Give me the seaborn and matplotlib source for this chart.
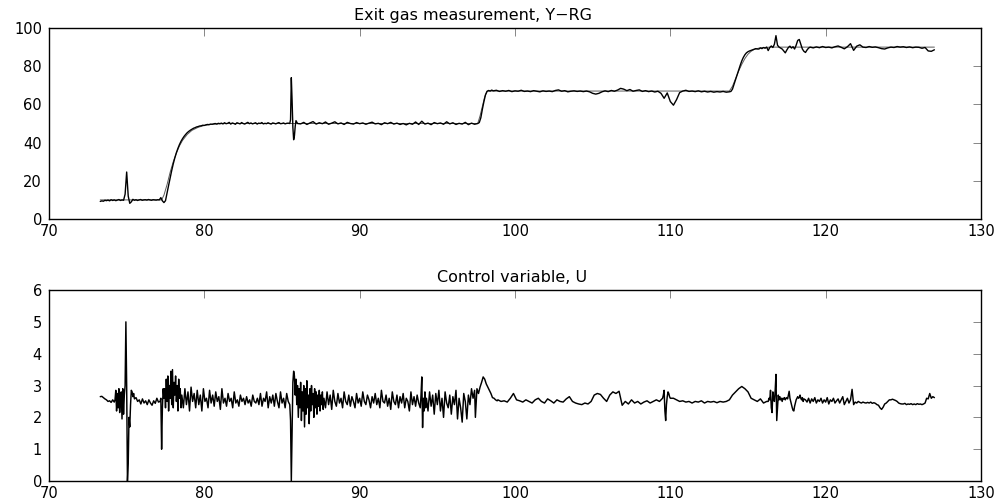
import numpy as np
import pandas as pd
import matplotlib
matplotlib.use("Agg")
import matplotlib.pyplot as plt
import seaborn as sns

# ---------------------------------------------------------------
# Exit gas measurement Y-RG (measured signal), sampled piecewise.
# Each block: (t_start, t_end) and the values in between.
# ---------------------------------------------------------------
gas_a_span = (73.3, 77.3)
gas_a = [9.2, 9.5, 9.3, 9.8, 9.6, 9.9, 9.5, 10.1, 9.7, 10.0, 9.6, 9.9, 10.2, 9.7,
         10.0, 9.8, 13.0, 24.6, 12.0, 8.2, 9.0, 10.3, 9.8, 10.1, 9.7, 10.0, 10.2,
         9.8, 10.0, 10.1, 9.9, 10.2, 10.0, 9.8, 10.1, 10.0, 9.9, 10.1, 10.0, 11.2, 9.5]
gas_b_span = (77.4, 81.0)
gas_b = [8.6, 9.6, 13.5, 17.6, 21.6, 25.4, 28.9, 32.0, 34.7, 37.0, 39.0, 40.7, 42.1,
         43.3, 44.3, 45.2, 45.9, 46.5, 47.0, 47.5, 47.8, 48.2, 48.4, 48.7, 48.8, 49.1,
         49.0, 49.3, 49.5, 49.4, 49.7, 49.6, 49.8, 50.0, 49.7, 50.1, 49.9]
gas_c_span = (81.1, 85.5)
gas_c = [50.2, 49.8, 50.4, 49.9, 50.1, 50.6, 49.7, 50.3, 50.0, 49.6, 50.4, 50.1, 49.8,
         50.5, 50.0, 49.7, 50.2, 50.6, 49.9, 50.3, 49.8, 50.1, 50.4, 49.7, 50.2, 50.0,
         50.5, 49.8, 50.1, 49.9, 50.4, 50.0, 49.7, 50.3, 50.1, 49.8, 50.2, 50.5, 49.9,
         50.0, 50.3, 49.8, 50.1, 50.2, 50.0]
gas_d_span = (85.55, 86.0)
gas_d = [52.0, 74.0, 62.0, 48.0, 41.5, 43.5, 48.5, 51.5, 50.8, 50.0]
gas_e_span = (86.2, 97.6)
gas_e = [49.8, 50.6, 49.5, 50.3, 51.0, 49.7, 50.4, 49.9, 50.8, 49.6,
         50.2, 50.9, 49.8, 50.3, 49.5, 50.6, 50.0, 49.7, 50.5, 49.9,
         50.3, 49.6, 50.2, 50.7, 49.8, 50.1, 49.4, 50.4, 49.9, 50.6,
         49.7, 50.2, 49.5, 50.0, 49.3, 50.1, 49.6, 50.8, 49.5, 51.2,
         49.7, 50.2, 49.4, 50.5, 49.9, 50.3, 49.6, 50.9, 49.8, 50.4,
         49.5, 50.1, 49.7, 50.6, 49.4, 50.2, 49.6, 50.0]
gas_f_span = (97.7, 98.6)
gas_f = [50.5, 53.0, 57.5, 61.5, 65.0, 66.8, 67.3, 67.0, 67.5, 67.1]
gas_g_span = (98.8, 113.8)
gas_g = [67.4, 66.8, 67.2, 66.9, 67.3, 66.7, 67.1, 66.9, 67.4, 66.8,
         67.0, 66.7, 67.2, 66.9, 66.6, 67.1, 66.8, 67.0, 66.7, 67.3,
         67.6, 66.9, 67.2, 66.6, 66.9, 67.1, 66.8, 67.0, 66.7, 67.0,
         66.6, 65.8, 65.4, 65.8, 66.6, 67.1, 66.7, 67.3, 66.9, 67.5,
         68.4, 68.0, 67.2, 67.8, 66.9, 67.3, 67.6, 66.8, 67.2, 66.7,
         67.0, 66.5, 66.9, 65.8, 63.2, 66.0, 61.5, 59.6, 62.5, 66.2,
         67.0, 67.4, 66.8, 67.0, 66.7, 67.1, 66.6, 66.9, 66.5, 66.8,
         66.4, 66.7, 66.5, 66.8, 66.4, 66.6]
gas_h_span = (113.9, 115.6)
gas_h = [66.8, 68.0, 70.5, 73.0, 75.5, 78.0, 80.5, 82.8, 84.6, 86.0, 87.0, 87.6,
         88.0, 88.3, 88.6, 88.9, 89.2, 89.0]
gas_i_span = (115.7, 119.0)
gas_i = [89.0, 89.6, 89.2, 89.8, 89.4, 90.0, 88.2, 89.8, 90.6, 89.8, 91.5, 96.0,
         91.0, 90.0, 89.5, 89.0, 88.0, 87.0, 88.5, 89.8, 90.5, 89.5, 90.2, 89.0,
         91.0, 93.5, 94.0, 91.5, 89.0, 87.8, 87.2, 88.5, 89.5, 90.0]
gas_j_span = (119.2, 127.0)
gas_j = [89.6, 90.1, 89.7, 90.3, 89.8, 90.0, 89.6, 90.2, 90.6, 89.9, 89.1, 90.2,
         91.8, 88.3, 90.5, 91.2, 90.0, 89.8, 90.3, 89.9, 90.1, 89.7, 89.2, 89.0,
         89.6, 90.0, 89.8, 90.3, 90.0, 90.2, 89.8, 90.1, 89.7, 90.0, 89.9, 89.4,
         89.8, 88.0, 87.8, 88.6]

# Reference / model response for the exit gas (thin line)
ref_t = [73.3, 77.25, 77.4, 77.6, 77.8, 78.0, 78.2, 78.4, 78.6, 78.9, 79.2, 79.6,
         80.0, 80.5, 81.0, 81.5, 97.6, 97.75, 97.9, 98.05, 98.2, 113.8, 114.0,
         114.2, 114.4, 114.6, 114.8, 115.0, 115.2, 115.4, 115.7, 116.0, 116.5, 127.0]
ref_y = [10.0, 10.0, 12.5, 18.0, 24.5, 30.0, 34.5, 38.3, 41.2, 44.3, 46.4, 48.0,
         49.0, 49.6, 49.9, 50.0, 50.0, 54.0, 59.0, 64.0, 67.0, 67.0, 69.5,
         73.5, 77.5, 81.0, 84.0, 86.3, 87.8, 88.8, 89.5, 89.8, 90.0, 90.0]

# ---------------------------------------------------------------
# Control variable U, sampled piecewise
# ---------------------------------------------------------------
u_a_span = (73.3, 74.2)
u_a = [2.65, 2.66, 2.62, 2.58, 2.55, 2.50, 2.52, 2.47, 2.55, 2.48]
u_b_span = (74.25, 74.9)
u_b = [2.55, 2.85, 2.2, 2.75, 2.3, 2.9, 2.15, 2.6, 2.8, 1.95, 2.9, 2.1, 2.7, 3.0]
u_c_span = (74.95, 75.45)
u_c = [5.0, 3.0, 0.0, 0.55, 2.0, 1.7, 2.4, 2.85, 2.8, 2.65, 2.75]
u_d_span = (75.5, 77.15)
u_d = [2.58, 2.62, 2.50, 2.55, 2.42, 2.58, 2.45, 2.52, 2.40, 2.55, 2.45, 2.38,
       2.52, 2.44, 2.60, 2.48, 2.5]
u_e_span = (77.2, 77.4)
u_e = [2.6, 1.0, 2.3, 2.9, 2.6]
u_f_span = (77.45, 78.5)
u_f = [2.9, 2.3, 3.2, 2.5, 3.3, 2.2, 3.0, 2.6, 3.45, 2.4, 3.5, 2.3, 3.1, 2.7, 3.3,
       2.5, 3.0, 2.2, 3.2, 2.6, 2.9, 2.3]
u_g_span = (78.55, 85.5)
u_g = [2.7, 2.3, 2.9, 2.4, 2.8, 2.2, 2.95, 2.5, 2.75, 2.3,
       2.85, 2.4, 2.7, 2.2, 2.9, 2.5, 2.6, 2.3, 2.85, 2.45,
       2.7, 2.35, 2.8, 2.5, 2.65, 2.25, 2.9, 2.45, 2.6, 2.35,
       2.75, 2.5, 2.6, 2.3, 2.8, 2.45, 2.55, 2.35, 2.7, 2.5,
       2.6, 2.4, 2.65, 2.45, 2.55, 2.35, 2.7, 2.5, 2.45, 2.6,
       2.4, 2.75, 2.35, 2.6, 2.5, 2.8, 2.3, 2.65, 2.45, 2.7,
       2.35, 2.75, 2.5, 2.3, 2.8, 2.45, 2.6, 2.3, 2.75, 2.5, 2.4]
u_h_span = (85.55, 85.9)
u_h = [1.9, 0.0, 1.5, 3.1, 3.45, 3.3, 2.7, 3.2]
u_i_span = (85.95, 87.65)
u_i = [2.4, 3.0, 2.0, 2.9, 2.3, 3.1, 1.9, 2.8, 2.2, 3.0, 1.7, 2.9, 2.1, 3.15, 2.3,
       2.7, 1.8, 2.9, 2.2, 3.0, 2.4, 2.75, 2.0, 2.9, 2.3, 2.8, 2.1, 2.7, 2.35, 2.85,
       2.2, 2.7, 2.4, 2.8, 2.25]
u_j_span = (87.7, 93.8)
u_j = [2.6, 2.3, 2.8, 2.4, 2.7, 2.25, 2.85, 2.5, 2.35, 2.75,
       2.45, 2.6, 2.3, 2.8, 2.5, 2.4, 2.7, 2.35, 2.65, 2.5,
       2.3, 2.75, 2.45, 2.6, 2.35, 2.8, 2.5, 2.4, 2.7, 2.55,
       2.3, 2.65, 2.45, 2.75, 2.4, 2.6, 2.3, 2.85, 2.5, 2.45,
       2.7, 2.35, 2.6, 2.25, 2.8, 2.5, 2.4, 2.7, 2.3, 2.65,
       2.45, 2.75, 2.3, 2.6, 2.5, 2.2, 2.8, 2.4, 2.65, 2.35,
       2.7, 2.45]
u_k_span = (93.9, 94.25)
u_k = [2.3, 2.7, 3.27, 1.68, 2.6, 2.2, 2.8, 2.3]
u_l_span = (94.3, 97.4)
u_l = [2.6, 2.2, 2.8, 2.35, 2.7, 2.1, 2.75, 2.4, 2.85, 2.2,
       2.6, 2.0, 2.8, 2.45, 2.3, 2.7, 2.1, 2.65, 2.4, 2.85,
       1.95, 2.6, 2.3, 1.85, 2.75, 2.5, 1.95, 2.7, 2.4, 2.9,
       2.6, 2.85]
u_m_span = (97.45, 98.85)
u_m = [2.0, 2.9, 2.75, 2.95, 3.1, 3.27, 3.2, 3.05, 2.95, 2.85, 2.75, 2.62, 2.6,
       2.55, 2.52]
u_n_span = (98.9, 109.5)
u_n = [2.55, 2.5, 2.52, 2.48, 2.6, 2.75, 2.55, 2.52, 2.48, 2.55,
       2.5, 2.45, 2.55, 2.6, 2.5, 2.45, 2.58, 2.52, 2.45, 2.55,
       2.5, 2.48, 2.58, 2.65, 2.5, 2.45, 2.42, 2.4, 2.45, 2.42,
       2.5, 2.7, 2.75, 2.72, 2.6, 2.5, 2.7, 2.8, 2.75, 2.82,
       2.38, 2.5, 2.42, 2.55, 2.45, 2.5, 2.42, 2.48, 2.52, 2.45,
       2.5, 2.55, 2.5, 2.6]
u_o_span = (109.55, 110.0)
u_o = [2.7, 2.85, 2.2, 1.9, 2.4, 2.65, 2.8, 2.75, 2.65, 2.6]
u_p_span = (110.2, 116.2)
u_p = [2.6, 2.55, 2.5, 2.52, 2.48, 2.5, 2.45, 2.5, 2.48, 2.52, 2.45, 2.5, 2.48,
       2.5, 2.46, 2.5, 2.48, 2.5, 2.55, 2.7, 2.8, 2.9, 2.97, 2.9, 2.8, 2.6, 2.55,
       2.5, 2.58, 2.45, 2.5]
u_q_span = (116.3, 118.6)
u_q = [2.5, 2.6, 2.55, 2.85, 2.3, 2.15, 2.8, 2.6, 2.5, 2.85,
       3.35, 1.9, 2.3, 2.7, 2.55, 2.65, 2.55, 2.6, 2.5, 2.6,
       2.58, 2.62, 2.55, 2.6, 2.62, 2.58, 2.7, 2.82, 2.6, 2.5,
       2.4, 2.3, 2.22, 2.2, 2.35, 2.45, 2.55, 2.6, 2.65, 2.6,
       2.62, 2.7, 2.6, 2.55, 2.62, 2.5, 2.58]
u_r_span = (118.7, 127.0)
u_r = [2.55, 2.48, 2.6, 2.45, 2.58, 2.5, 2.62, 2.45, 2.55, 2.5,
       2.6, 2.45, 2.55, 2.48, 2.62, 2.42, 2.55, 2.5, 2.6, 2.45,
       2.52, 2.58, 2.45, 2.55, 2.65, 2.4, 2.5, 2.6, 2.45, 2.55,
       2.88, 2.4, 2.48, 2.45, 2.5, 2.47, 2.45, 2.48, 2.46, 2.45,
       2.47, 2.45, 2.48, 2.44, 2.46, 2.44, 2.4, 2.38, 2.3, 2.25,
       2.32, 2.42, 2.45, 2.5, 2.55, 2.55, 2.57, 2.55, 2.53, 2.5,
       2.45, 2.43, 2.42, 2.42, 2.44, 2.4, 2.42, 2.41, 2.43, 2.4,
       2.42, 2.4, 2.43, 2.41, 2.42, 2.4, 2.42, 2.45, 2.6, 2.58,
       2.75, 2.6, 2.65, 2.62]

x_ticks = [70, 80, 90, 100, 110, 120, 130]
gas_yticks = [0, 20, 40, 60, 80, 100]
u_yticks = [0, 1, 2, 3, 4, 5, 6]

title_gas = "Exit gas measurement, Y\u2212RG"
title_u = "Control variable, U"


def assemble(blocks):
    """Join (span, values) blocks into one time/value frame."""
    ts, vs = [], []
    for (t0, t1), vals in blocks:
        ts.append(np.linspace(t0, t1, len(vals)))
        vs.append(np.asarray(vals, dtype=float))
    return pd.DataFrame({"t": np.concatenate(ts), "v": np.concatenate(vs)})


gas_df = assemble([(gas_a_span, gas_a), (gas_b_span, gas_b), (gas_c_span, gas_c),
                   (gas_d_span, gas_d), (gas_e_span, gas_e), (gas_f_span, gas_f),
                   (gas_g_span, gas_g), (gas_h_span, gas_h), (gas_i_span, gas_i),
                   (gas_j_span, gas_j)])
ref_df = pd.DataFrame({"t": ref_t, "v": ref_y})
u_df = assemble([(u_a_span, u_a), (u_b_span, u_b), (u_c_span, u_c), (u_d_span, u_d),
                 (u_e_span, u_e), (u_f_span, u_f), (u_g_span, u_g), (u_h_span, u_h),
                 (u_i_span, u_i), (u_j_span, u_j), (u_k_span, u_k), (u_l_span, u_l),
                 (u_m_span, u_m), (u_n_span, u_n), (u_o_span, u_o), (u_p_span, u_p),
                 (u_q_span, u_q), (u_r_span, u_r)])

sns.set_style("white")
plt.rcParams["font.family"] = ["DejaVu Sans"]
plt.rcParams["text.color"] = "black"

fig = plt.figure(figsize=(10, 5.03), dpi=100)
ax1 = fig.add_axes([0.049, 0.5646, 0.932, 0.3797])
ax2 = fig.add_axes([0.049, 0.0437, 0.932, 0.3797])

sns.lineplot(data=ref_df, x="t", y="v", ax=ax1, color="0.35", linewidth=0.7,
             estimator=None, sort=False)
sns.lineplot(data=gas_df, x="t", y="v", ax=ax1, color="black", linewidth=1.0,
             estimator=None, sort=False)
sns.lineplot(data=u_df, x="t", y="v", ax=ax2, color="black", linewidth=1.05,
             estimator=None, sort=False)

for ax, yt, title, tx in [(ax1, gas_yticks, title_gas, 0.455),
                          (ax2, u_yticks, title_u, 0.497)]:
    ax.set_xlim(x_ticks[0], x_ticks[-1])
    ax.set_ylim(yt[0], yt[-1])
    ax.set_xticks(x_ticks)
    ax.set_yticks(yt)
    ax.set_xlabel("")
    ax.set_ylabel("")
    ax.tick_params(direction="in", length=6, width=0.6, color="0.45",
                   top=True, right=True, labelsize=10.5, labelcolor="black")
    ax.tick_params(axis="x", pad=3.5)
    ax.tick_params(axis="y", pad=5)
    for s in ax.spines.values():
        s.set_visible(True)
        s.set_color("black")
        s.set_linewidth(1.0)
    ax.set_title(title, fontsize=11.5, x=tx, pad=6, color="black")
    ax.grid(False)

fig.savefig("out.png", dpi=100, facecolor="white")
